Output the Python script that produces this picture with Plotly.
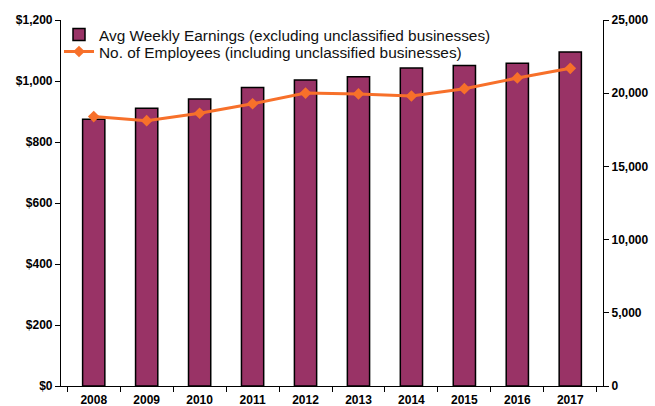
import plotly.graph_objects as go

years = ["2008", "2009", "2010", "2011", "2012", "2013", "2014", "2015", "2016", "2017"]
avg_weekly_earnings = [875, 911, 941, 979, 1003, 1014, 1043, 1051, 1058, 1095]
employees = [18400, 18120, 18630, 19280, 20010, 19950, 19810, 20310, 21040, 21700]

FONT = "Liberation Sans, Arial"
ORANGE = "#F7702A"

fig = go.Figure()
fig.add_trace(go.Bar(
    x=years, y=avg_weekly_earnings,
    name="Avg Weekly Earnings (excluding unclassified businesses)",
    marker=dict(color="#993366", line=dict(color="black", width=1.5)),
    width=0.42, legend="legend",
))
fig.add_trace(go.Scatter(
    x=years, y=employees, yaxis="y2", mode="lines+markers",
    name="No. of Employees (including unclassified businesses)",
    line=dict(color=ORANGE, width=3),
    marker=dict(symbol="diamond", size=9, color=ORANGE),
    legend="legend2",
))

legend_common = dict(xref="container", yref="container", xanchor="left", yanchor="top",
                     font=dict(size=15.4, family=FONT, color="#111"),
                     bgcolor="rgba(0,0,0,0)", borderwidth=0)

fig.update_layout(
    width=655, height=406,
    margin=dict(l=61, r=52, t=20, b=20, autoexpand=False),
    paper_bgcolor="white", plot_bgcolor="white",
    font=dict(family=FONT, color="black"),
    showlegend=True,
    legend=dict(x=59/655, y=1 - 18/406, **legend_common),
    legend2=dict(x=59/655, y=1 - 35/406, **legend_common),
    xaxis=dict(
        showline=True, linecolor="black", linewidth=1.2, automargin=False,
        ticks="outside", tickson="boundaries", ticklen=5, tickcolor="black",
        ticklabelstandoff=2,
        tickfont=dict(size=12, family=FONT, weight="bold"),
        showgrid=False,
    ),
    yaxis=dict(
        range=[0, 1200], dtick=200, tickprefix="$", tickformat=",d", automargin=False,
        showline=True, linecolor="black", linewidth=1.2,
        ticks="outside", ticklen=5, tickcolor="black",
        tickfont=dict(size=12, family=FONT, weight="bold"), showgrid=False, zeroline=False,
    ),
    yaxis2=dict(
        range=[0, 25000], dtick=5000, tickformat=",d", automargin=False,
        overlaying="y", side="right",
        showline=True, linecolor="black", linewidth=1.2,
        ticks="outside", ticklen=5, tickcolor="black",
        tickfont=dict(size=12, family=FONT, weight="bold"), showgrid=False, zeroline=False,
    ),
)

fig.write_html("out.html", config={"displayModeBar": False},
               post_script="document.body.style.margin='0px';")
